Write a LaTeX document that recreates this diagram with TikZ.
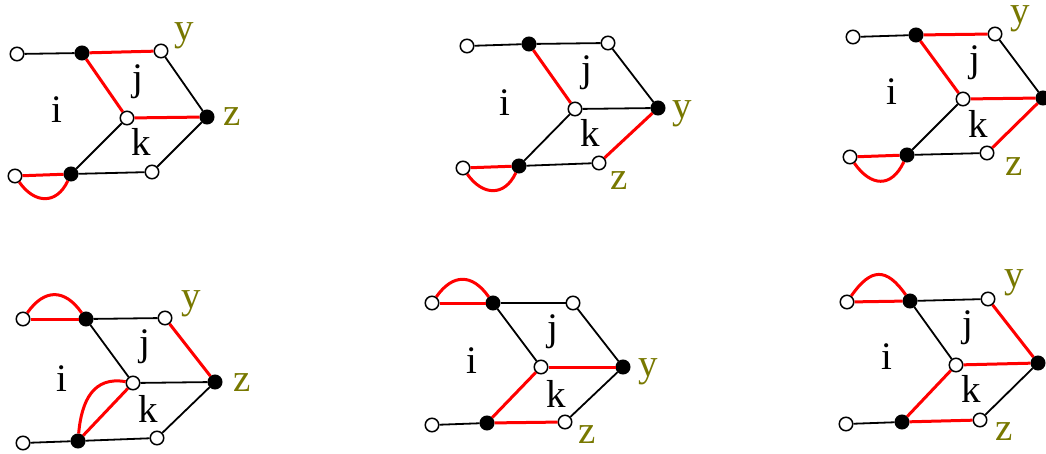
\documentclass[tikz,border=0pt]{standalone}
\usepackage{fontspec}
\setmainfont{Liberation Serif}
\definecolor{olivec}{RGB}{120,120,0}
\tikzset{
  wn/.style={circle, draw=black, fill=white, line width=1.5pt, minimum size=13.5pt, inner sep=0pt},
  bn/.style={circle, draw=black, fill=black, line width=1.5pt, minimum size=13.5pt, inner sep=0pt},
  lab/.style={font=\fontsize{39}{40}\selectfont, inner sep=0pt},
  olab/.style={lab, text=olivec},
  bl/.style={draw=black, line width=1.8pt},
  rd/.style={draw=red, line width=3pt},
}
\begin{document}
\begin{tikzpicture}[x=1pt,y=-1pt]
\useasboundingbox (0,0) rectangle (1046,454);
% ---------- Panel 1 ----------
\node[wn] (a-tl) at (17,54) {};
\node[bn] (a-tb) at (82,53) {};
\node[wn] (a-tr) at (161,51) {};
\node[wn] (a-c) at (127,118) {};
\node[bn] (a-r) at (207,117) {};
\node[wn] (a-bl) at (15,176) {};
\node[bn] (a-bb) at (71,174) {};
\node[wn] (a-br) at (152,172) {};
\node[lab] (a-i) at (57,110) {i};
\node[lab] (a-j) at (138,82) {j};
\node[lab] (a-k) at (141,142) {k};
\node[olab] (a-y) at (184,36) {y};
\node[olab] (a-z) at (232,117) {z};
\draw[bl] (a-tl) -- (a-tb);
\draw[rd] (a-tb) -- (a-tr);
\draw[rd] (a-tb) -- (a-c);
\draw[bl] (a-tr) -- (a-r);
\draw[rd] (a-c) -- (a-r);
\draw[bl] (a-c) -- (a-bb);
\draw[bl] (a-r) -- (a-br);
\draw[bl] (a-bb) -- (a-br);
\draw[rd] (a-bl) -- (a-bb);
\draw[rd] (a-bl) to[out=-55,in=-115,looseness=1.4] (a-bb);
% ---------- Panel 2 ----------
\node[wn] (b-tl) at (467,46) {};
\node[bn] (b-tb) at (529,44) {};
\node[wn] (b-tr) at (608,43) {};
\node[wn] (b-c) at (575,109) {};
\node[bn] (b-r) at (658,108) {};
\node[wn] (b-bl) at (463,168) {};
\node[bn] (b-bb) at (519,166) {};
\node[wn] (b-br) at (599,163) {};
\node[lab] (b-i) at (505,103) {i};
\node[lab] (b-j) at (587,73) {j};
\node[lab] (b-k) at (590,133) {k};
\node[olab] (b-y) at (682,114) {y};
\node[olab] (b-z) at (619,181) {z};
\draw[bl] (b-tl) -- (b-tb);
\draw[bl] (b-tb) -- (b-tr);
\draw[rd] (b-tb) -- (b-c);
\draw[bl] (b-tr) -- (b-r);
\draw[bl] (b-c) -- (b-r);
\draw[bl] (b-c) -- (b-bb);
\draw[rd] (b-r) -- (b-br);
\draw[bl] (b-bb) -- (b-br);
\draw[rd] (b-bl) -- (b-bb);
\draw[rd] (b-bl) to[out=-55,in=-115,looseness=1.4] (b-bb);
% ---------- Panel 3 ----------
\node[wn] (c-tl) at (853,37) {};
\node[bn] (c-tb) at (916,35) {};
\node[wn] (c-tr) at (995,34) {};
\node[wn] (c-c) at (963,99) {};
\node[bn] (c-r) at (1043,98) {};
\node[wn] (c-bl) at (850,157) {};
\node[bn] (c-bb) at (907,155) {};
\node[wn] (c-br) at (987,153) {};
\node[lab] (c-i) at (892,92) {i};
\node[lab] (c-j) at (975,63) {j};
\node[lab] (c-k) at (978,124) {k};
\node[olab] (c-y) at (1020,19) {y};
\node[olab] (c-z) at (1014,167) {z};
\draw[bl] (c-tl) -- (c-tb);
\draw[rd] (c-tb) -- (c-tr);
\draw[rd] (c-tb) -- (c-c);
\draw[bl] (c-tr) -- (c-r);
\draw[rd] (c-c) -- (c-r);
\draw[bl] (c-c) -- (c-bb);
\draw[rd] (c-r) -- (c-br);
\draw[bl] (c-bb) -- (c-br);
\draw[rd] (c-bl) -- (c-bb);
\draw[rd] (c-bl) to[out=-55,in=-115,looseness=1.5] (c-bb);
% ---------- Panel 4 ----------
\node[wn] (d-tl) at (23,319) {};
\node[bn] (d-tb) at (86,319) {};
\node[wn] (d-tr) at (165,318) {};
\node[wn] (d-c) at (133,383) {};
\node[bn] (d-r) at (215,382) {};
\node[wn] (d-bl) at (23,443) {};
\node[bn] (d-bb) at (78,441) {};
\node[wn] (d-br) at (157,438) {};
\node[lab] (d-i) at (62,379) {i};
\node[lab] (d-j) at (145,347) {j};
\node[lab] (d-k) at (148,409) {k};
\node[olab] (d-y) at (191,304) {y};
\node[olab] (d-z) at (242,383) {z};
\draw[rd] (d-tl) -- (d-tb);
\draw[rd] (d-tl) to[out=55,in=125,looseness=1.4] (d-tb);
\draw[bl] (d-tb) -- (d-tr);
\draw[bl] (d-tb) -- (d-c);
\draw[rd] (d-tr) -- (d-r);
\draw[bl] (d-c) -- (d-r);
\draw[rd] (d-c) -- (d-bb);
\draw[rd] (d-bb) to[out=85,in=170,looseness=1.2] (d-c);
\draw[bl] (d-r) -- (d-br);
\draw[bl] (d-bb) -- (d-br);
\draw[bl] (d-bl) -- (d-bb);
% ---------- Panel 5 ----------
\node[wn] (e-tl) at (432,303) {};
\node[bn] (e-tb) at (493,303) {};
\node[wn] (e-tr) at (573,303) {};
\node[wn] (e-c) at (541,367) {};
\node[bn] (e-r) at (623,367) {};
\node[wn] (e-bl) at (432,425) {};
\node[bn] (e-bb) at (487,423) {};
\node[wn] (e-br) at (565,422) {};
\node[lab] (e-i) at (472,361) {i};
\node[lab] (e-j) at (553,332) {j};
\node[lab] (e-k) at (556,394) {k};
\node[olab] (e-y) at (648,372) {y};
\node[olab] (e-z) at (587,435) {z};
\draw[rd] (e-tl) -- (e-tb);
\draw[rd] (e-tl) to[out=55,in=125,looseness=1.4] (e-tb);
\draw[bl] (e-tb) -- (e-tr);
\draw[bl] (e-tb) -- (e-c);
\draw[bl] (e-tr) -- (e-r);
\draw[rd] (e-c) -- (e-r);
\draw[rd] (e-c) -- (e-bb);
\draw[bl] (e-r) -- (e-br);
\draw[rd] (e-bb) -- (e-br);
\draw[bl] (e-bl) -- (e-bb);
% ---------- Panel 6 ----------
\node[wn] (f-tl) at (847,302) {};
\node[bn] (f-tb) at (910,301) {};
\node[wn] (f-tr) at (988,299) {};
\node[wn] (f-c) at (956,365) {};
\node[bn] (f-r) at (1038,363) {};
\node[wn] (f-bl) at (846,424) {};
\node[bn] (f-bb) at (902,422) {};
\node[wn] (f-br) at (980,420) {};
\node[lab] (f-i) at (887,357) {i};
\node[lab] (f-j) at (968,328) {j};
\node[lab] (f-k) at (971,389) {k};
\node[olab] (f-y) at (1014,283) {y};
\node[olab] (f-z) at (1004,432) {z};
\draw[rd] (f-tl) -- (f-tb);
\draw[rd] (f-tl) to[out=55,in=125,looseness=1.6] (f-tb);
\draw[bl] (f-tb) -- (f-tr);
\draw[bl] (f-tb) -- (f-c);
\draw[rd] (f-tr) -- (f-r);
\draw[rd] (f-c) -- (f-r);
\draw[rd] (f-c) -- (f-bb);
\draw[bl] (f-r) -- (f-br);
\draw[rd] (f-bb) -- (f-br);
\draw[bl] (f-bl) -- (f-bb);
\end{tikzpicture}
\end{document}
